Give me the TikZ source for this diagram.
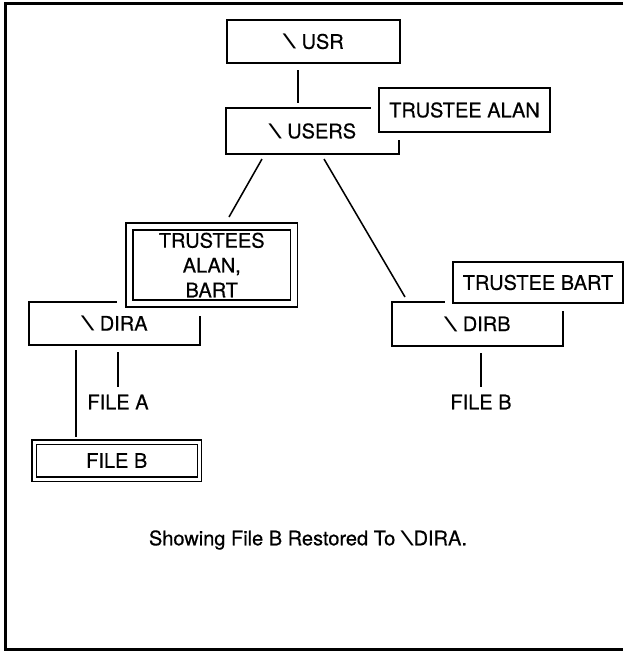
\documentclass[tikz,border=0pt]{standalone}
\usepackage{fontspec}
\setmainfont{TeX Gyre Heros}[FakeBold=0.5]
\newfontfamily\bslfont{TeX Gyre Heros}
\usetikzlibrary{calc}
\newcommand{\bsl}{\scalebox{2.3}[1]{\bslfont\textbackslash}}
\begin{document}
\begin{tikzpicture}[x=0.75pt,y=-0.75pt,
  font=\fontsize{15}{18.6}\selectfont,
  dirbox/.style={draw, line width=0.95pt, inner sep=0pt, outer sep=0pt, align=center, fill=white},
  trbox/.style={dirbox, preaction={draw=white, line width=12pt}},
  dblbox/.style={dirbox, double=white, double distance=#1},
  halo/.style={preaction={draw=white, line width=#1}},
  conn/.style={line width=1.15pt},
  frameline/.style={line width=2.4pt},
  lbl/.style={inner sep=0pt, outer sep=0pt}]
\useasboundingbox (0,0) rectangle (625,651);
% frame
\draw[frameline] (623,3.5) -- (5.5,3.5) -- (5.5,649.5) -- (623,649.5);
% directory boxes
\node[dirbox, minimum width=129.75pt, minimum height=32.25pt] (usr) at (313.5,41.5) {\bsl\ USR};
\node[dirbox, minimum width=129.75pt, minimum height=34.5pt] (users) at (312.5,131) {\bsl\ USERS};
\node[dirbox, minimum width=128.25pt, minimum height=32.25pt] (dira) at (114.5,323.5) {\bsl\ DIRA};
\node[dirbox, minimum width=128.25pt, minimum height=33pt] (dirb) at (477.5,324) {\bsl\ DIRB};
% trustee boxes (cover the directory boxes)
\node[trbox, minimum width=128.25pt, minimum height=33pt] (alan) at (464.5,110) {TRUSTEE ALAN};
\node[trbox, minimum width=127.5pt, minimum height=30.75pt] (bart) at (538,282.5) {TRUSTEE BART};
\node[dblbox=4.35pt, halo=18pt, minimum width=123.4pt, minimum height=57.75pt] (trab) at (211.75,265) {TRUSTEES\\ALAN,\\BART};
\node[dblbox=2.25pt, minimum width=124.1pt, minimum height=27.75pt] (fileb) at (116.75,460.5) {FILE B};
% file labels
\node[lbl] (filea) at (118,402) {FILE A};
\node[lbl] (filebr) at (481,402) {FILE B};
% connectors
\draw[conn] ($(usr.south)+(-15.5,7)$) -- ($(users.north)+(-14.5,-5)$);
\draw[conn] ($(users.south)+(-50.5,5)$) -- ($(trab.north)+(17.25,-9.5)$);
\draw[conn] ($(users.south)+(11.5,5)$) -- ($(dirb.north)+(-72.5,-5)$);
\draw[conn] ($(dira.south)+(-38.5,5)$) -- ($(fileb.north)+(-40.75,-5)$);
\draw[conn] ($(dira.south)+(3.5,7)$) -- ($(filea.north)+(0,-8)$);
\draw[conn] ($(dirb.south)+(3.5,7)$) -- ($(filebr.north)+(0,-8)$);
% caption
\node[lbl] (caption) at (308,540) {Showing File B Restored To \bsl DIRA.};
\end{tikzpicture}
\end{document}
